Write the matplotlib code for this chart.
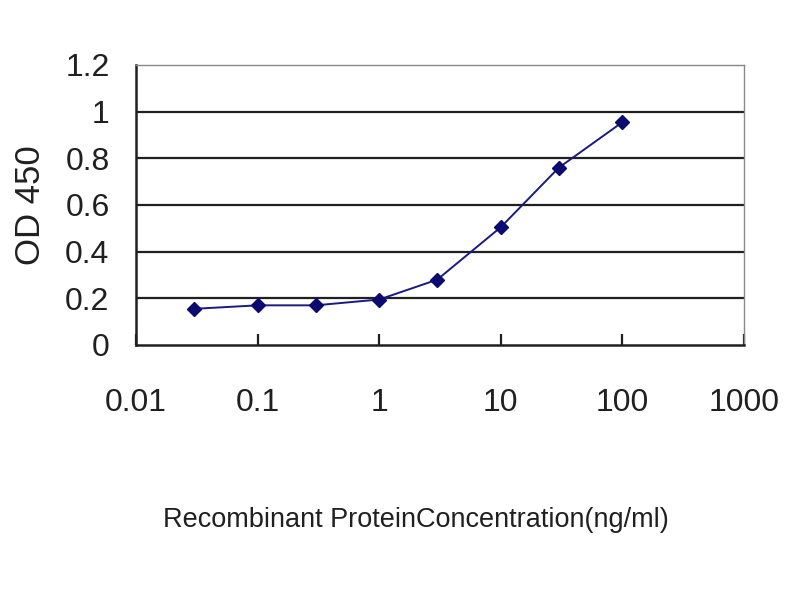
import matplotlib
matplotlib.use("Agg")
import matplotlib.pyplot as plt

conc = [0.03, 0.1, 0.3, 1, 3, 10, 30, 100]
od450 = [0.155, 0.17, 0.17, 0.195, 0.28, 0.505, 0.76, 0.955]
xticks = [0.01, 0.1, 1, 10, 100, 1000]
xticklabels = ["0.01", "0.1", "1", "10", "100", "1000"]
yticks = [0, 0.2, 0.4, 0.6, 0.8, 1.0, 1.2]
yticklabels = ["0", "0.2", "0.4", "0.6", "0.8", "1", "1.2"]

plt.rcParams['font.family'] = ['Liberation Sans', 'DejaVu Sans']

fig = plt.figure(figsize=(8, 6), dpi=100)
ax = fig.add_axes([136/800, 1-345/600, (744-136)/800, (345-65)/600])

ax.set_xscale('log')
ax.set_xlim(0.01, 1000)
ax.set_ylim(0, 1.2)

for y in yticks[1:-1]:
    ax.axhline(y, color='#202020', lw=1.6, zorder=1)

ax.plot(conc, od450, color='#1a1a80', lw=1.4, marker='D', markersize=7,
        markerfacecolor='#0a0a70', markeredgecolor='#0a0a70', zorder=3)

ax.set_xticks(xticks)
ax.set_xticklabels(xticklabels, fontsize=23)
ax.minorticks_off()
ax.set_yticks(yticks)
ax.set_yticklabels(yticklabels, fontsize=23)
ax.tick_params(axis='x', direction='in', length=8, width=1.6, pad=31, colors='#202020')
ax.tick_params(axis='y', length=0, pad=19, colors='#202020')

for s in ['left', 'bottom']:
    ax.spines[s].set_color('#202020')
    ax.spines[s].set_linewidth(1.8)
for s in ['right', 'top']:
    ax.spines[s].set_color('#888888')
    ax.spines[s].set_linewidth(1.0)

fig.text(31/800, 1-205/600, "OD 450", rotation=90, fontsize=25, color='#202020',
         ha='center', va='center')
fig.text(416/800, 1-527/600, "Recombinant ProteinConcentration(ng/ml)", fontsize=19.5,
         color='#202020', ha='center', va='baseline')

fig.savefig("out.png", dpi=100)
